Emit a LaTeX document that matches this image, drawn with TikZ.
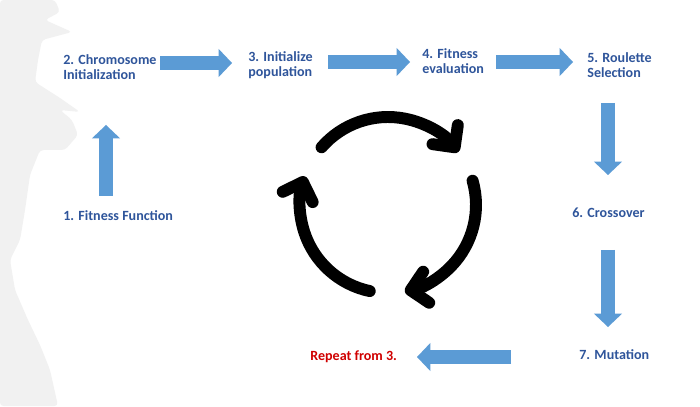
\documentclass[tikz,border=0pt]{standalone}
\usepackage{fontspec}
\setmainfont{Carlito}
\usepackage{tikz}
\usetikzlibrary{arrows.meta,positioning,calc}
\usepackage{xcolor}

\definecolor{textblue}{RGB}{47,85,155}
\definecolor{blockblue}{RGB}{91,155,213}
\definecolor{repeatred}{RGB}{208,0,0}
\definecolor{brushgray}{RGB}{241,241,241}

\tikzset{
    step label/.style={font=\fontsize{8}{9}\selectfont\bfseries, text=textblue,
        align=left, inner sep=0pt, anchor=base west},
    blk/.style={draw=blockblue, line width=8pt,
        -{Triangle[length=7.6pt, width=16pt, line width=0pt]}},
    cyc/.style={line width=6.8pt, line cap=round,
        -{Straight Barb[length=9pt, width=18pt, round]}}
}

\begin{document}
\begin{tikzpicture}[x=0.02cm, y=0.02cm]
    \fill[white] (0,0) rectangle (700,406);
    \useasboundingbox (0,0) rectangle (700,406);

    % brush stroke on the left edge
    \fill[brushgray, rounded corners=2pt] (0,406) -- (55,406) -- (60,394) -- (45,386)
        -- (72,374) -- (42,366) -- (38,346) -- (35,324) -- (60,308) -- (80,294)
        -- (60,296) -- (72,286) -- (78,271) -- (65,256) -- (40,256) -- (30,231)
        -- (25,196) -- (20,166) -- (10,146) -- (15,116) -- (28,86) -- (40,61)
        -- (50,36) -- (58,0) -- (0,0) -- cycle;

    % steps
    \node[step label] (fitfun) at (63,185) {1. Fitness Function};
    \node[step label] (chrom) at (63,326) {2. Chromosome\\Initialization};
    \node[step label] (initpop) at (248,329) {3. Initialize\\population};
    \node[step label] (fiteval) at (422,332) {4. Fitness\\evaluation};
    \node[step label] (roul) at (587,328) {5. Roulette\\Selection};
    \node[step label] (cross) at (572,188) {6. Crossover};
    \node[step label] (mut) at (579,47) {7. Mutation};
    \node[step label, text=repeatred] (rep) at (310,46) {Repeat from 3.};

    % block arrows
    \coordinate (a1s) at (106,210);  \coordinate (a1e) at (106,281);
    \coordinate (a2s) at (160,343);  \coordinate (a2e) at (232,343);
    \coordinate (a3s) at (328,344);  \coordinate (a3e) at (410,344);
    \coordinate (a4s) at (496,344);  \coordinate (a4e) at (573,344);
    \coordinate (a5s) at (608,303);  \coordinate (a5e) at (608,231);
    \coordinate (a6s) at (608,156);  \coordinate (a6e) at (608,79);
    \coordinate (a7s) at (511,49);   \coordinate (a7e) at (417,49);
    \draw[blk] (a1s) -- (a1e);
    \draw[blk] (a2s) -- (a2e);
    \draw[blk] (a3s) -- (a3e);
    \draw[blk] (a4s) -- (a4e);
    \draw[blk] (a5s) -- (a5e);
    \draw[blk] (a6s) -- (a6e);
    \draw[blk] (a7s) -- (a7e);

    % cycle symbol
    \coordinate (cyc) at (388,201);
    \draw[cyc] (cyc) ++(139:88) arc[start angle=139, end angle=37, radius=88];
    \draw[cyc] (cyc) ++(16:88) arc[start angle=16, end angle=-79, radius=88];
    \draw[cyc] (cyc) ++(-102:88) arc[start angle=-102, end angle=-199, radius=88];
\end{tikzpicture}
\end{document}
